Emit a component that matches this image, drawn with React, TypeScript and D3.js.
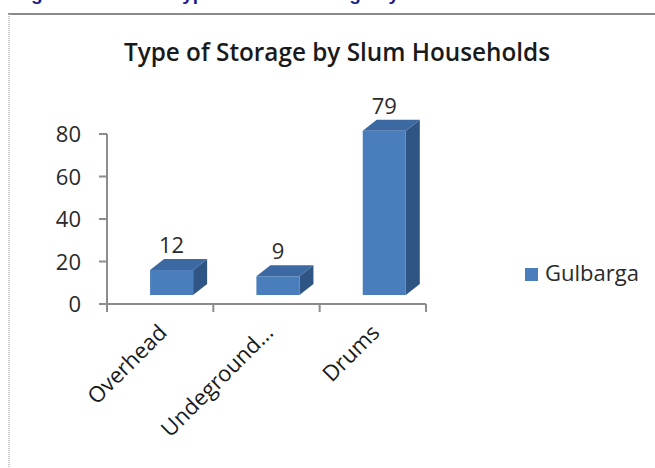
import React from "react";
import * as d3 from "d3";

// Storage types recorded for slum households in Gulbarga
const categories = ["Overhead", "Undeground...", "Drums"];
const values = [12, 9, 79];
const yTicks = [0, 20, 40, 60, 80];
const seriesName = "Gulbarga";
const chartTitle = "Type of Storage by Slum Households";
const headingLead = "Figure No. 4.10:";
const headingRest = "Type of Water Storage by Slum Households";

const W = 655;
const H = 468;
const FONT = "'Open Sans', 'Noto Sans', sans-serif";

const FRONT = "#4a7dbb";
const TOP = "#3d69a2";
const SIDE = "#2f5585";

export default function App() {
  // axis geometry
  const x = d3.scaleBand<string>().domain(categories).range([107, 426]).paddingInner(0).paddingOuter(0);
  const y = d3.scaleLinear().domain([0, 80]).range([304, 134]);
  // front faces of the 3-D columns sit a little in front of and above the floor line
  const yBar = d3.scaleLinear().domain([0, 80]).range([295, 295 - 80 * 2.08]);
  const bw = x.bandwidth();
  const depthX = 14;
  const depthY = 11;
  const tickXs = [...categories.map((c) => x(c) as number), 426];

  return (
    <div style={{ position: "absolute", left: 0, top: 0 }}>
      <svg width={W} height={H} style={{ display: "block", background: "#fff" }}>
        {/* heading above the chart frame, clipped by the top edge */}
        <text
          y={-0.5}
          fontFamily="'Liberation Sans', Arial, sans-serif"
          fontWeight="bold"
          fontSize={19}
          fill="#1c1c8e"
        >
          <tspan x={14}>{headingLead}</tspan>
          <tspan x={172}>{headingRest}</tspan>
        </text>

        {/* chart frame */}
        <line x1={8} x2={W} y1={14} y2={14} stroke="#8a8a8a" strokeWidth={2} />
        <line x1={9} x2={9} y1={14} y2={H} stroke="#b5b5b5" strokeWidth={1.5} strokeDasharray="1 1" />

        <text
          x={337}
          y={61}
          textAnchor="middle"
          fontFamily={FONT}
          fontWeight={600}
          fontSize={24.3}
          fill="#1a1a1a"
        >
          {chartTitle}
        </text>

        {/* y axis */}
        <line x1={107} x2={107} y1={y(80)} y2={y(0)} stroke="#8c8c8c" strokeWidth={2} />
        {yTicks.map((t) => (
          <g key={t}>
            <line x1={99} x2={107} y1={y(t)} y2={y(t)} stroke="#8c8c8c" strokeWidth={2} />
            <text
              x={81}
              y={y(t) + 8}
              textAnchor="end"
              fontFamily={FONT}
              fontSize={22}
              fill="#2a2a2a"
            >
              {t}
            </text>
          </g>
        ))}

        {/* x axis */}
        <line x1={107} x2={426} y1={y(0)} y2={y(0)} stroke="#8c8c8c" strokeWidth={2} />
        {tickXs.map((tx, i) => (
          <line key={i} x1={tx} x2={tx} y1={y(0)} y2={y(0) + 8} stroke="#8c8c8c" strokeWidth={2} />
        ))}

        {/* 3-D columns */}
        {categories.map((c, i) => {
          const v = values[i];
          const fx = (x(c) as number) + bw * 0.405;
          const fw = bw * 0.405;
          const top = yBar(v);
          const bot = yBar(0);
          const topFace = `M${fx},${top} L${fx + depthX},${top - depthY} L${fx + fw + depthX},${top - depthY} L${fx + fw},${top} Z`;
          const sideFace = `M${fx + fw},${top} L${fx + fw + depthX},${top - depthY} L${fx + fw + depthX},${bot - depthY} L${fx + fw},${bot} Z`;
          return (
            <g key={c}>
              <path d={sideFace} fill={SIDE} />
              <path d={topFace} fill={TOP} />
              <rect x={fx} y={top} width={fw} height={bot - top} fill={FRONT} />
              <text
                x={fx + fw / 2}
                y={top - 17}
                textAnchor="middle"
                fontFamily={FONT}
                fontSize={22}
                fill="#2a2a2a"
              >
                {v}
              </text>
            </g>
          );
        })}

        {/* category labels */}
        {categories.map((c) => {
          const cx = (x(c) as number) + bw / 2 + 8;
          const cy = 334;
          return (
            <text
              key={c}
              transform={`translate(${cx},${cy}) rotate(-45)`}
              textAnchor="end"
              fontFamily={FONT}
              fontSize={22}
              fill="#1a1a1a"
            >
              {c}
            </text>
          );
        })}

        {/* legend */}
        <rect x={525} y={268} width={13} height={13} fill={FRONT} />
        <text x={545} y={281} fontFamily={FONT} fontSize={22} fill="#2a2a2a">
          {seriesName}
        </text>
      </svg>
    </div>
  );
}
